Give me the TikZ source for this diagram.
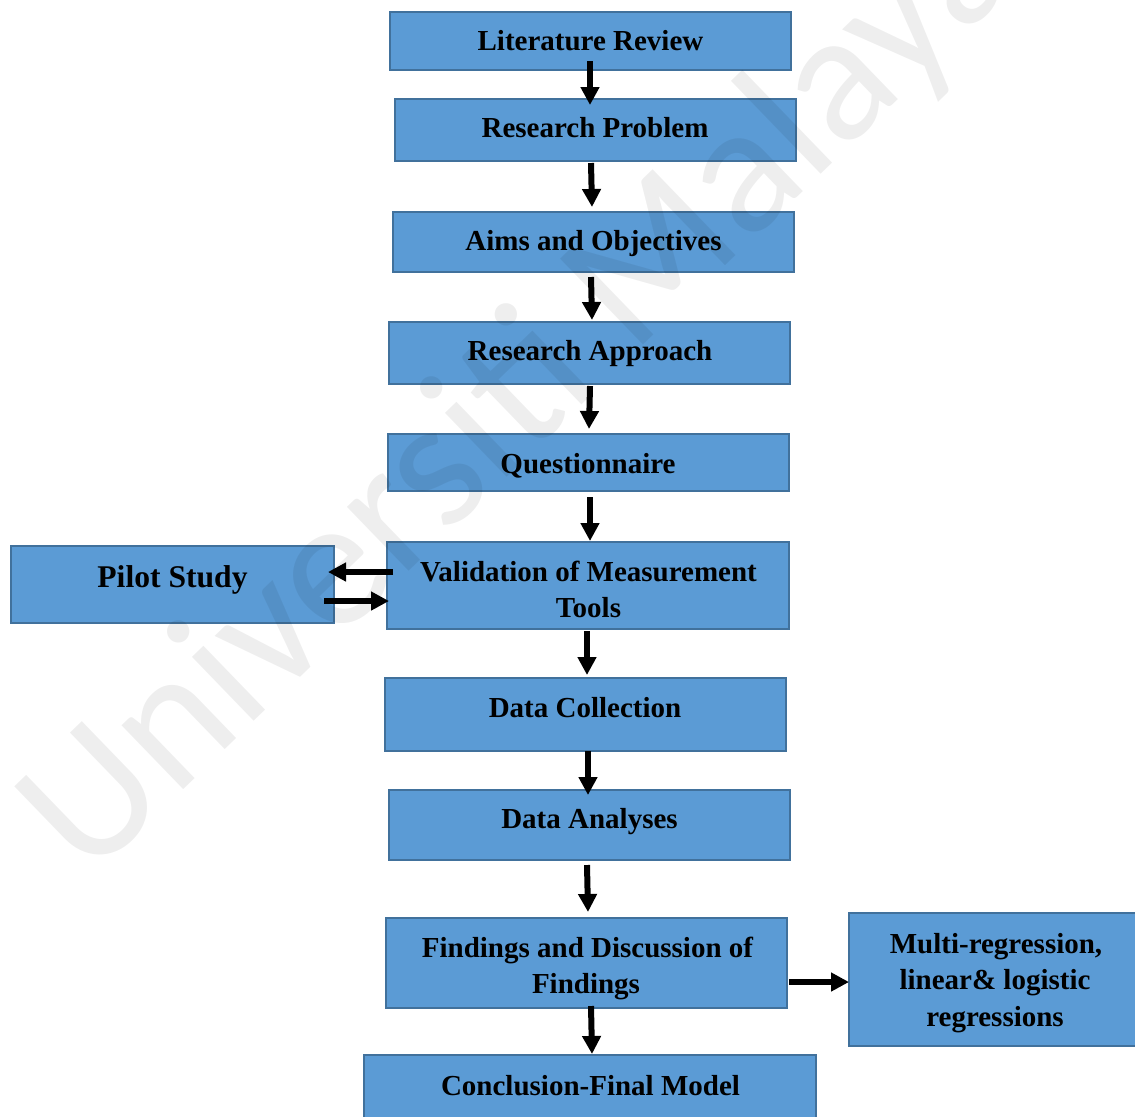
\documentclass[tikz,border=0pt]{standalone}
\usepackage{fontspec}
\setmainfont{Liberation Serif}
\newfontfamily\wmfont{Carlito}
\usetikzlibrary{arrows.meta,calc}
\definecolor{boxfill}{HTML}{5B9BD5}
\definecolor{boxline}{HTML}{41719C}
\begin{document}
\begin{tikzpicture}[x=0.5pt,y=-0.5pt,
  stagebox/.style={draw=boxline, fill=boxfill, line width=1pt, inner sep=0pt},
  stagetext/.style={font=\fontsize{14.5}{18}\selectfont\bfseries, anchor=base, inner sep=0pt},
  flow/.style={line width=3pt, -{Triangle[length=9pt,width=9pt]}},
  wm/.style={font=\wmfont\fontsize{93}{93}\selectfont, text=black, text opacity=0.065, inner sep=0pt}]
\useasboundingbox (0,0) rectangle (1135,1116);

% stage boxes
\node[stagebox, minimum width=200.5pt, minimum height=29pt]   (lr) at (590.5,41) {};
\node[stagebox, minimum width=200.5pt, minimum height=31pt]   (rp) at (595.5,130) {};
\node[stagebox, minimum width=200.5pt, minimum height=30pt]   (ao) at (593.5,242) {};
\node[stagebox, minimum width=200.5pt, minimum height=31pt]   (ra) at (589.5,353) {};
\node[stagebox, minimum width=200.5pt, minimum height=28.5pt] (qn) at (588.5,462.5) {};
\node[stagebox, minimum width=201pt,   minimum height=43.5pt] (vm) at (588,585.5) {};
\node[stagebox, minimum width=161.5pt, minimum height=38.5pt] (ps) at (172.5,584.5) {};
\node[stagebox, minimum width=200.5pt, minimum height=36.5pt] (dc) at (585.5,714.5) {};
\node[stagebox, minimum width=200.5pt, minimum height=35pt]   (da) at (589.5,825) {};
\node[stagebox, minimum width=200.5pt, minimum height=45pt]   (fd) at (586.5,963) {};
\node[stagebox, minimum width=143.5pt, minimum height=66.5pt] (mr) at (992.5,979.5) {};
\node[stagebox, minimum width=226pt,   minimum height=37.5pt] (cf) at (590,1092.5) {};

% box labels
\node[stagetext] (t-lr)  at (590.5,50)  {Literature Review};
\node[stagetext] (t-rp)  at (595,137)   {Research Problem};
\node[stagetext] (t-ao)  at (593.5,250) {Aims and Objectives};
\node[stagetext] (t-ra)  at (590,360)   {Research Approach};
\node[stagetext] (t-qn)  at (588,473)   {Questionnaire};
\node[stagetext] (t-vm1) at (588.5,581) {Validation of Measurement};
\node[stagetext] (t-vm2) at (588.5,617) {Tools};
\node[stagetext, font=\fontsize{15.8}{19}\selectfont\bfseries] (t-ps) at (172.5,587) {Pilot Study};
\node[stagetext] (t-dc)  at (585,717)   {Data Collection};
\node[stagetext] (t-da)  at (589.5,828) {Data Analyses};
\node[stagetext] (t-fd1) at (587.5,957) {Findings and Discussion of};
\node[stagetext] (t-fd2) at (586,993)   {Findings};
\node[stagetext] (t-mr1) at (996,953)   {Multi-regression,};
\node[stagetext] (t-mr2) at (995,989)   {linear\& logistic};
\node[stagetext] (t-mr3) at (995,1026)  {regressions};
\node[stagetext] (t-cf)  at (590.5,1095) {Conclusion-Final Model};

% main flow
\draw[flow] ($(lr.south)+(-0.5,-10)$) -- ($(rp.north)+(-5.5,7)$);
\draw[flow] ($(rp.south)+(-4.5,1)$)   -- ($(ao.north)+(-1.5,-4)$);
\draw[flow] ($(ao.south)+(-2.5,4)$)   -- ($(ra.north)+(2.5,-1)$);
\draw[flow] ($(ra.south)+(0.5,1)$)    -- ($(qn.north)+(0.5,-4)$);
\draw[flow] ($(qn.south)+(1.5,5)$)    -- ($(vm.north)+(2,0)$);
\draw[flow] ($(vm.south)+(-1,1)$)     -- ($(dc.north)+(1.5,-2)$);
\draw[flow] ($(dc.south)+(2.5,-1)$)   -- ($(da.north)+(-1.5,6)$);
\draw[flow] ($(da.south)+(-2.5,4)$)   -- ($(fd.north)+(1.5,-5)$);
\draw[flow] ($(fd.south)+(4.5,-3)$)   -- ($(cf.north)+(2,0)$);

% side branches
\draw[flow] ($(fd.east)+(1,19)$)      -- ($(mr.west)+(1,2.5)$);
\draw[flow] ($(vm.west)+(7,-13.5)$)   -- ($(ps.east)+(-7,-12.5)$);
\draw[flow] ($(ps.east)+(-11,16.5)$)  -- ($(vm.west)+(3,15.5)$);

% watermark
\node[wm, rotate=44, anchor=base west] (mark) at (88,882) {Universiti Malaya};
\end{tikzpicture}
\end{document}
